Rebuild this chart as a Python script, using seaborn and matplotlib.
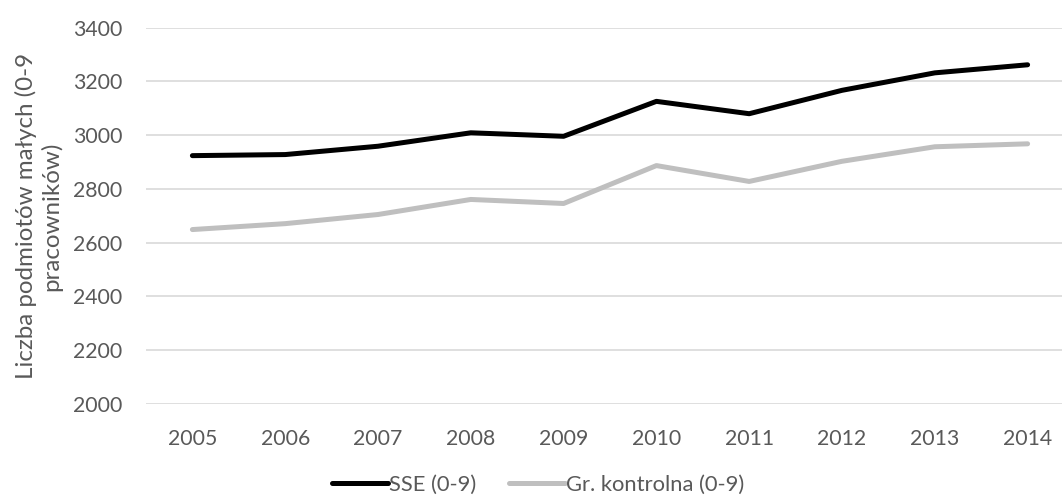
import matplotlib
matplotlib.use('Agg')
import matplotlib.pyplot as plt
import seaborn as sns
import pandas as pd

# Data
years = [2005, 2006, 2007, 2008, 2009, 2010, 2011, 2012, 2013, 2014]
sse = [2924, 2928, 2959, 3009, 2996, 3126, 3080, 3167, 3232, 3262]
kontrolna = [2649, 2671, 2705, 2761, 2746, 2887, 2828, 2903, 2957, 2968]
series_names = ['SSE (0-9)', 'Gr. kontrolna (0-9)']
y_ticks = [2000, 2200, 2400, 2600, 2800, 3000, 3200, 3400]

df = pd.DataFrame({
    'rok': years * 2,
    'liczba': sse + kontrolna,
    'seria': [series_names[0]] * len(years) + [series_names[1]] * len(years),
})

sns.set_theme(style='white')
plt.rcParams['font.family'] = ['Lato', 'DejaVu Sans']
text_color = '#595959'

fig = plt.figure(figsize=(10.62, 5.01), dpi=100)
ax = fig.add_axes([146 / 1062, 97 / 501, 928 / 1062, 376.3 / 501])

sns.lineplot(data=df, x='rok', y='liczba', hue='seria',
             palette={series_names[0]: '#000000', series_names[1]: '#BFBFBF'},
             linewidth=3.6, ax=ax, legend=False, solid_capstyle='round')

ax.set_xlim(2004.5, 2014.5)
ax.set_ylim(2000, 3400)
ax.set_yticks(y_ticks)
ax.set_xticks(years)
ax.set_xticklabels([str(y) for y in years])
ax.yaxis.grid(True, color='#D9D9D9', linewidth=1.2)
ax.set_axisbelow(True)
for s in ax.spines.values():
    s.set_visible(False)
ax.tick_params(axis='both', length=0, labelsize=15.3, colors=text_color)
ax.tick_params(axis='y', pad=17)
ax.tick_params(axis='x', pad=18)
ax.set_xlabel('')
ax.set_ylabel('Liczba podmiotów małych (0-9\npracowników)', fontsize=17.4,
              color=text_color, labelpad=8, linespacing=1.15)

handles = [plt.Line2D([], [], color='#000000', linewidth=3.6, solid_capstyle='round'),
           plt.Line2D([], [], color='#BFBFBF', linewidth=3.6, solid_capstyle='round')]
leg = fig.legend(handles, series_names, loc='center', bbox_to_anchor=(0.507, 0.032),
                 ncol=2, frameon=False, fontsize=15.8, handlelength=2.55,
                 handletextpad=0.05, columnspacing=1.5)
for t in leg.get_texts():
    t.set_color(text_color)

plt.savefig('out.png', dpi=100)
